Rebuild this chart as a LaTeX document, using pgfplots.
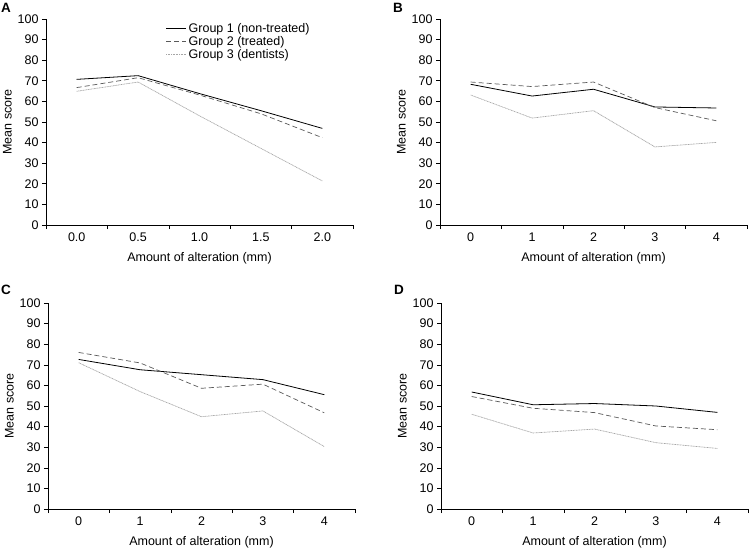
\documentclass[border=0pt]{standalone}
\usepackage{pgfplots}
\pgfplotsset{compat=1.18}
\usepackage{fontspec}
\setmainfont{Liberation Sans}

\pgfplotsset{
  panel/.style={
    width=307pt, height=206pt, scale only axis,
    axis lines=left, axis line style={-, black, line width=0.6pt},
    ymin=0, ymax=100, ytick={0,10,...,100},
    xmin=-0.5, xmax=4.5, xtick={0,...,4},
    minor xtick={-0.5,0.5,...,4.5},
    major x tick style={draw=none},
    minor x tick style={black, line width=0.6pt},
    y tick style={black, line width=0.6pt},
    tick align=outside, major tick length=4pt, minor tick length=4pt,
    ticklabel style={font=\fontsize{12.5}{14}\selectfont},
    label style={font=\fontsize{12.5}{14}\selectfont},
    xlabel style={yshift=-4pt},
    ylabel style={yshift=-1pt},
    /pgf/number format/assume math mode=true,
    xlabel={Amount of alteration (mm)},
    ylabel={Mean score},
    clip=false,
  },
  g1/.style={black, line width=0.8pt},
  g2/.style={black!65, line width=0.7pt, dash pattern=on 5pt off 3pt},
  g3/.style={black!35, line width=0.7pt, dash pattern=on 1pt off 0.6pt},
}

\begin{document}
\begin{tikzpicture}
\useasboundingbox (0pt,0pt) rectangle (750pt,547pt);

% Panel A
\begin{axis}[panel, at={(46pt,322pt)}, anchor=south west,
  xticklabels={0.0,0.5,1.0,1.5,2.0},
  legend style={at={(0.38,1.0)}, anchor=north west, draw=none, fill=none,
    font=\fontsize{12.5}{14}\selectfont, row sep=-1.5pt,
    legend cell align=left},
  legend image code/.code={\draw[#1] (0pt,0pt) -- (20pt,0pt);}]
\addplot[g1] coordinates {(0,70.7)(1,72.5)(2,63.8)(3,55.5)(4,46.9)};
\addlegendentry{Group 1 (non-treated)}
\addplot[g2] coordinates {(0,66.7)(1,71.5)(2,63.1)(3,54.0)(4,42.4)};
\addlegendentry{Group 2 (treated)}
\addplot[g3] coordinates {(0,64.9)(1,69.4)(2,53.0)(3,37.2)(4,21.4)};
\addlegendentry{Group 3 (dentists)}
\end{axis}
\node[font=\bfseries\fontsize{13.5}{15}\selectfont] at (6pt,539pt) {A};

% Panel B
\begin{axis}[panel, at={(440pt,322pt)}, anchor=south west]
\addplot[g1] coordinates {(0,68.3)(1,62.6)(2,65.9)(3,57.3)(4,56.8)};
\addplot[g2] coordinates {(0,69.4)(1,67.2)(2,69.4)(3,57.0)(4,50.6)};
\addplot[g3] coordinates {(0,63.1)(1,51.9)(2,55.5)(3,37.9)(4,40.1)};
\end{axis}
\node[font=\bfseries\fontsize{13.5}{15}\selectfont] at (398pt,539pt) {B};

% Panel C
\begin{axis}[panel, at={(48pt,38pt)}, anchor=south west]
\addplot[g1] coordinates {(0,72.6)(1,67.6)(2,65.2)(3,62.8)(4,55.5)};
\addplot[g2] coordinates {(0,76.0)(1,70.9)(2,58.6)(3,60.6)(4,46.7)};
\addplot[g3] coordinates {(0,71.0)(1,57.0)(2,44.8)(3,47.6)(4,30.3)};
\end{axis}
\node[font=\bfseries\fontsize{13.5}{15}\selectfont] at (6pt,257pt) {C};

% Panel D
\begin{axis}[panel, at={(441pt,38pt)}, anchor=south west]
\addplot[g1] coordinates {(0,56.8)(1,50.6)(2,51.2)(3,50.0)(4,46.9)};
\addplot[g2] coordinates {(0,54.6)(1,48.9)(2,46.8)(3,40.3)(4,38.5)};
\addplot[g3] coordinates {(0,46.0)(1,36.9)(2,38.8)(3,32.2)(4,29.4)};
\end{axis}
\node[font=\bfseries\fontsize{13.5}{15}\selectfont] at (399pt,257pt) {D};
\end{tikzpicture}
\end{document}
